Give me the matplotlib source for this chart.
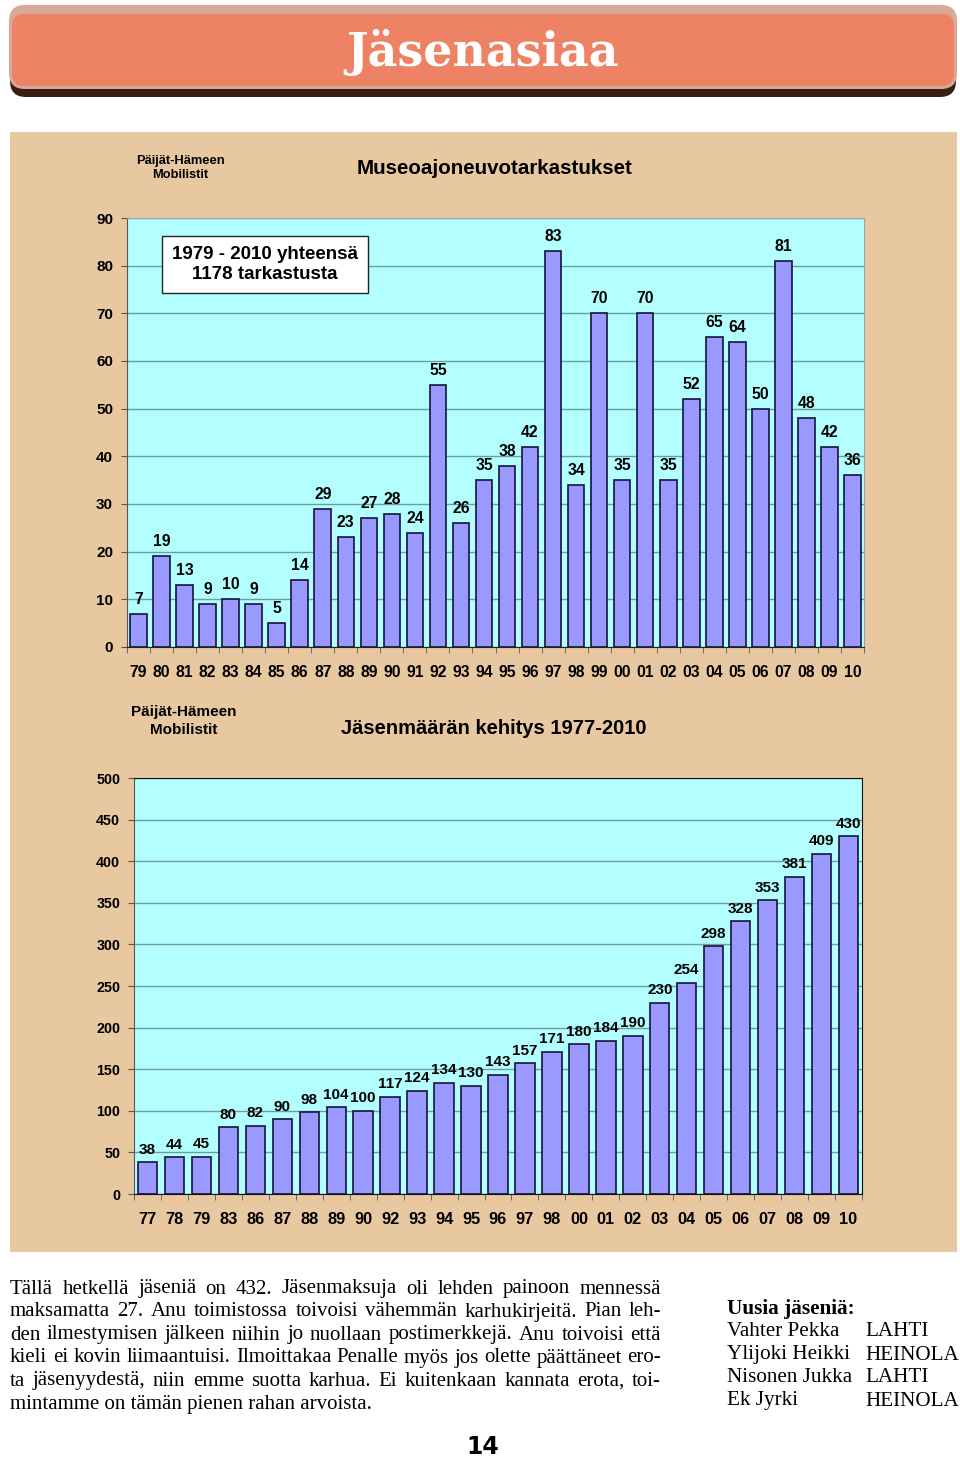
import matplotlib
matplotlib.use("Agg")
import matplotlib.pyplot as plt
from matplotlib.patches import FancyBboxPatch, Rectangle
import numpy as np

W, H = 960, 1461

# --- data ---
tark_years = ["79", "80", "81", "82", "83", "84", "85", "86", "87", "88", "89", "90",
              "91", "92", "93", "94", "95", "96", "97", "98", "99", "00", "01", "02",
              "03", "04", "05", "06", "07", "08", "09", "10"]
tark_counts = [7, 19, 13, 9, 10, 9, 5, 14, 29, 23, 27, 28, 24, 55, 26, 35, 38, 42, 83,
               34, 70, 35, 70, 35, 52, 65, 64, 50, 81, 48, 42, 36]

jasen_years = ["77", "78", "79", "83", "86", "87", "88", "89", "90", "92", "93", "94",
               "95", "96", "97", "98", "00", "01", "02", "03", "04", "05", "06", "07",
               "08", "09", "10"]
jasen_counts = [38, 44, 45, 80, 82, 90, 98, 104, 100, 117, 124, 134, 130, 143, 157, 171,
                180, 184, 190, 230, 254, 298, 328, 353, 381, 409, 430]

body_lines = [
    "Tällä hetkellä jäseniä on 432.  Jäsenmaksuja oli lehden painoon mennessä",
    "maksamatta 27. Anu toimistossa toivoisi vähemmän karhukirjeitä. Pian leh-",
    "den ilmestymisen jälkeen niihin jo nuollaan postimerkkejä. Anu toivoisi että",
    "kieli ei kovin liimaantuisi. Ilmoittakaa Penalle myös jos olette päättäneet ero-",
    "ta jäsenyydestä, niin emme suotta karhua. Ei kuitenkaan kannata erota, toi-",
    "mintamme on tämän pienen rahan arvoista.",
]
new_names = ["Vahter Pekka", "Ylijoki Heikki", "Nisonen Jukka", "Ek Jyrki"]
new_towns = ["LAHTI", "HEINOLA", "LAHTI", "HEINOLA"]

TAN = "#E8C8A0"
CYAN = "#B3FFFF"
BAR = "#9999FF"
EDGE = "#14143a"
GRID = "#6f9c9c"
SANS = "Liberation Sans"
SERIF = "Liberation Serif"

fig = plt.figure(figsize=(W / 100, H / 100), dpi=100)
fig.patch.set_facecolor("white")

# page background axes in pixel coordinates
bg = fig.add_axes([0, 0, 1, 1], zorder=0)
bg.set_xlim(0, W)
bg.set_ylim(H, 0)
bg.axis("off")

# header bar
bg.add_patch(FancyBboxPatch((10, 10), 946, 87, boxstyle="round,pad=0,rounding_size=16",
                            fc="#3a1e14", ec="none"))
bg.add_patch(FancyBboxPatch((9, 5), 948, 84, boxstyle="round,pad=0,rounding_size=16",
                            fc="#d9a898", ec="none"))
bg.add_patch(FancyBboxPatch((12, 14), 942, 72, boxstyle="round,pad=0,rounding_size=12",
                            fc="#EE8264", ec="none"))
bg.text(483, 53, "Jäsenasiaa", color="white", fontsize=33, fontweight="bold",
        family="DejaVu Serif", ha="center", va="center")

# tan panel
bg.add_patch(Rectangle((10, 132), 947, 1120, fc=TAN, ec="none"))

# top chart headings
bg.text(180, 168, "Päijät-Hämeen\nMobilistit", fontsize=9.3, fontweight="bold",
        family=SANS, ha="center", va="center", linespacing=1.2)
bg.text(495, 168, "Museoajoneuvotarkastukset", fontsize=14.8, fontweight="bold",
        family=SANS, ha="center", va="center")
# bottom chart headings
bg.text(184, 721, "Päijät-Hämeen\nMobilistit", fontsize=11, fontweight="bold",
        family=SANS, ha="center", va="center", linespacing=1.35)
bg.text(494, 729, "Jäsenmäärän kehitys 1977-2010", fontsize=14.5, fontweight="bold",
        family=SANS, ha="center", va="center")


def px_axes(left, top, right, bottom):
    return fig.add_axes([left / W, 1 - bottom / H, (right - left) / W, (bottom - top) / H],
                        zorder=2)


def style_axes(ax, ymax, step, n):
    ax.set_facecolor(CYAN)
    ax.set_xlim(-0.5, n - 0.5)
    ax.set_ylim(0, ymax)
    ax.set_yticks(np.arange(0, ymax + 1, step))
    ax.yaxis.grid(True, color=GRID, linewidth=1)
    ax.set_axisbelow(True)
    ax.set_xticks(np.arange(n))
    ax.set_xticks(np.arange(-0.5, n, 1), minor=True)
    ax.tick_params(axis="x", which="major", length=0, pad=13)
    ax.tick_params(axis="x", which="minor", length=4, color="#555555")
    ax.tick_params(axis="y", length=4, color="#555555", pad=6)
    for lbl in ax.get_xticklabels() + ax.get_yticklabels():
        lbl.set_fontfamily(SANS)
        lbl.set_fontweight("bold")


# --- top chart ---
ax1 = px_axes(127, 218, 864, 647)
n1 = len(tark_years)
ax1.bar(np.arange(n1), tark_counts, width=0.72, color=BAR, edgecolor=EDGE, linewidth=1.2)
style_axes(ax1, 90, 10, n1)
ax1.set_xticklabels(tark_years, fontsize=11.3, fontweight="bold", family=SANS)
for lbl in ax1.get_yticklabels():
    lbl.set_fontsize(11)
for i, v in enumerate(tark_counts):
    ax1.annotate(str(v), (i, v), xytext=(0, 5), textcoords="offset points",
                 ha="center", va="bottom", fontsize=11.3, fontweight="bold", family=SANS)
for s in ["top", "right"]:
    ax1.spines[s].set_color("#9aa8a8")
ax1.spines["left"].set_color("#555555")
ax1.spines["bottom"].set_color("#222222")
ax1.text((265 - 127) / 737, (647 - 246) / 429, "1979 - 2010 yhteensä\n1178 tarkastusta",
         transform=ax1.transAxes, fontsize=13.5, fontweight="bold", family=SANS,
         ha="center", va="top", multialignment="center", linespacing=1.2,
         bbox=dict(boxstyle="square,pad=0.55", fc="white", ec="#222222", lw=1))

# --- bottom chart ---
ax2 = px_axes(134, 778, 862, 1194)
n2 = len(jasen_years)
ax2.bar(np.arange(n2), jasen_counts, width=0.72, color=BAR, edgecolor=EDGE, linewidth=1.2)
style_axes(ax2, 500, 50, n2)
ax2.set_xticklabels(jasen_years, fontsize=11.8, fontweight="bold", family=SANS)
for lbl in ax2.get_yticklabels():
    lbl.set_fontsize(10.3)
for i, v in enumerate(jasen_counts):
    ax2.annotate(str(v), (i, v), xytext=(0, 4), textcoords="offset points",
                 ha="center", va="bottom", fontsize=11, fontweight="bold", family=SANS)
for s in ["top", "right", "bottom"]:
    ax2.spines[s].set_color("#111111")
ax2.spines["left"].set_color("#555555")

# --- body text (justified) ---
renderer = fig.canvas.get_renderer()


def text_width(s, size, weight="normal"):
    t = bg.text(0, 0, s, fontsize=size, family=SERIF, fontweight=weight)
    bb = t.get_window_extent(renderer)
    t.remove()
    return bb.width


left_x, right_x = 10, 661
size = 14.0
widest = max(text_width(l, size) for l in body_lines[:-1])
size = size * (right_x - left_x) / widest * 0.995
y0, dy = 1289, 23
for k, line in enumerate(body_lines):
    y = y0 + k * dy
    if k == len(body_lines) - 1:
        bg.text(left_x, y, line, fontsize=size, family=SERIF, va="center", ha="left")
        continue
    words = line.split()
    widths = [text_width(w, size) for w in words]
    gap = ((right_x - left_x) - sum(widths)) / (len(words) - 1)
    x = left_x
    for w, wd in zip(words, widths):
        bg.text(x, y, w, fontsize=size, family=SERIF, va="center", ha="left")
        x += wd + gap

bg.text(727, 1309, "Uusia jäseniä:", fontsize=size + 0.3, family=SERIF, fontweight="bold",
        va="center", ha="left")
for k, (nm, tw) in enumerate(zip(new_names, new_towns)):
    y = 1332 + k * 23
    bg.text(727, y, nm, fontsize=size + 0.2, family=SERIF, va="center", ha="left")
    bg.text(865, y, tw, fontsize=size + 0.2, family=SERIF, va="center", ha="left")

bg.text(483, 1447, "14", fontsize=17, fontweight="bold", family="DejaVu Sans",
        ha="center", va="center")

fig.savefig("out.png", dpi=100)
